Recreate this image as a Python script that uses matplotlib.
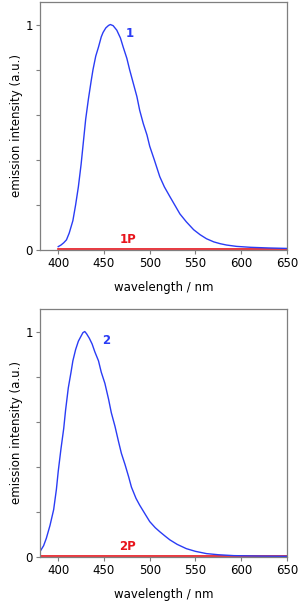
import matplotlib
matplotlib.use("Agg")
import matplotlib.pyplot as plt

# emission spectra
wl_1 = [400, 403, 406, 409, 412, 416, 419, 422, 425, 427, 430, 433, 436, 438,
        441, 444, 447, 449, 452, 455, 457, 460, 464, 468, 471, 475, 478, 482,
        486, 489, 493, 497, 500, 505, 511, 516, 522, 528, 533, 540, 548, 555,
        562, 570, 577, 584, 595, 610, 630, 650]
int_1 = [0.015, 0.022, 0.032, 0.045, 0.075, 0.13, 0.2, 0.28, 0.38, 0.46, 0.58,
         0.67, 0.75, 0.8, 0.86, 0.9, 0.945, 0.965, 0.985, 0.996, 1.0, 0.995,
         0.975, 0.94, 0.9, 0.85, 0.8, 0.74, 0.68, 0.62, 0.56, 0.51, 0.46, 0.4,
         0.325, 0.28, 0.237, 0.195, 0.16, 0.125, 0.09, 0.068, 0.05, 0.036,
         0.028, 0.022, 0.016, 0.012, 0.009, 0.007]
wl_1p = [400, 650]
int_1p = [0.005, 0.005]

wl_2 = [381, 384, 387, 391, 395, 398, 400, 403, 406, 408, 411, 414, 416, 419,
        422, 425, 427, 429, 431, 434, 437, 440, 444, 447, 451, 455, 458, 462,
        466, 469, 473, 477, 480, 485, 489, 495, 500, 506, 511, 517, 522, 530,
        540, 550, 562, 575, 592, 620, 650]
int_2 = [0.03, 0.05, 0.083, 0.14, 0.21, 0.3, 0.38, 0.48, 0.57, 0.65, 0.75, 0.82,
         0.87, 0.92, 0.957, 0.98, 0.995, 1.0, 0.99, 0.97, 0.945, 0.91, 0.87,
         0.82, 0.77, 0.7, 0.64, 0.58, 0.51, 0.46, 0.41, 0.355, 0.31, 0.26, 0.23,
         0.19, 0.157, 0.13, 0.112, 0.092, 0.076, 0.056, 0.037, 0.025, 0.015,
         0.01, 0.006, 0.004, 0.003]
wl_2p = [380, 650]
int_2p = [0.004, 0.004]

x_ticks = [400, 450, 500, 550, 600, 650]
y_ticks = [0, 0.2, 0.4, 0.6, 0.8, 1]
y_ticklabels = ["0", "", "", "", "", "1"]

blue = "#2a3cf5"
red = "#e8141c"
gray = "#7f7f7f"

fig = plt.figure(figsize=(2.98, 6.03), dpi=100)

panels = [
    ([0.134, 0.5854, 0.829, 0.4113], wl_1, int_1, wl_1p, int_1p, "1", "1P", 478),
    ([0.134, 0.0763, 0.829, 0.4113], wl_2, int_2, wl_2p, int_2p, "2", "2P", 452),
]
for pos, x, y, xp, yp, lab, labp, lx in panels:
    ax = fig.add_axes(pos)
    ax.plot(xp, yp, color=red, lw=1.2)
    ax.plot(x, y, color=blue, lw=1.0)
    ax.set_xlim(380, 650)
    ax.set_ylim(0, 1.1)
    ax.set_xticks(x_ticks)
    ax.set_yticks(y_ticks)
    ax.set_yticklabels(y_ticklabels)
    ax.tick_params(direction="out", length=3, width=0.8, color=gray,
                   labelsize=8.5, pad=2)
    for s in ax.spines.values():
        s.set_color(gray)
        s.set_linewidth(0.9)
    ax.set_xlabel("wavelength / nm", fontsize=8.5, labelpad=8)
    ax.set_ylabel("emission intensity (a.u.)", fontsize=8.5, labelpad=2)
    ax.text(lx, 0.96, lab, color=blue, fontsize=8.5, fontweight="bold",
            ha="center", va="center")
    ax.text(476, 0.045, labp, color=red, fontsize=8.5, fontweight="bold",
            ha="center", va="center")

fig.savefig("out.png", dpi=100)
